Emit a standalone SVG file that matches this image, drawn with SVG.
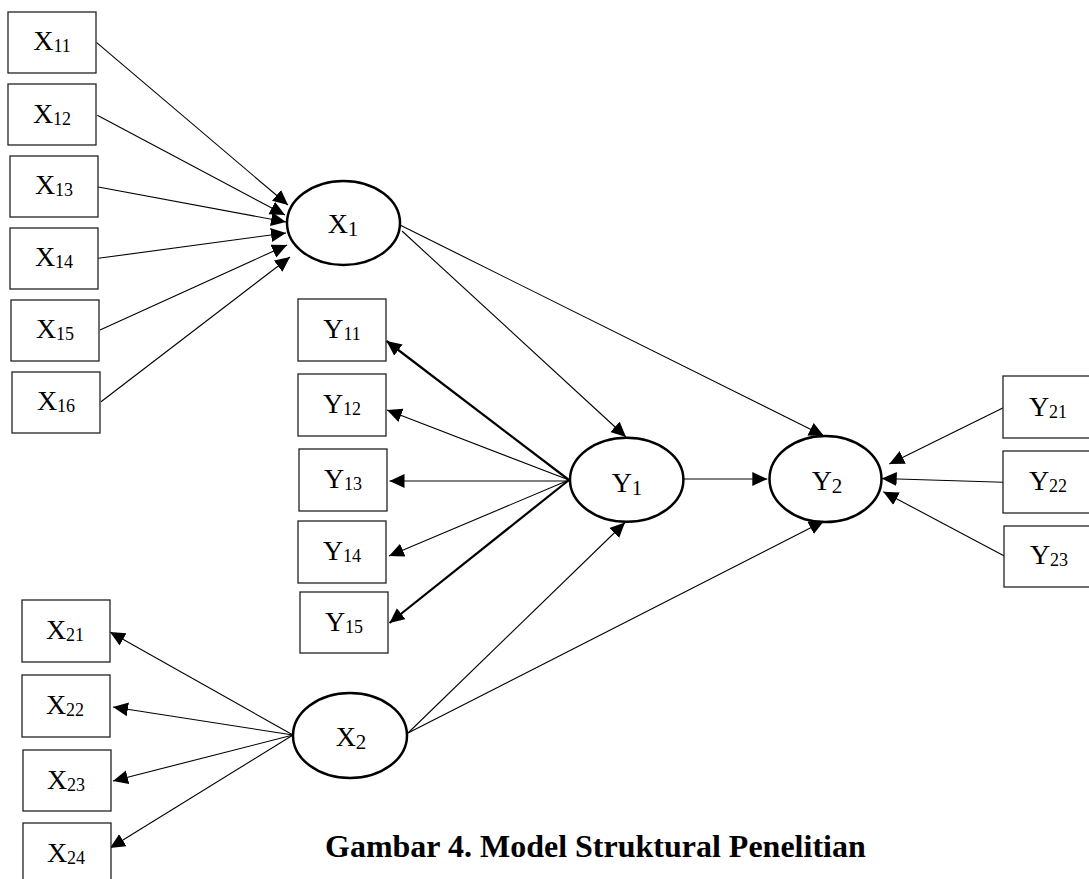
<svg xmlns="http://www.w3.org/2000/svg" width="1089" height="879" viewBox="0 0 1089 879">
<style>
.box{fill:#fff;stroke:#222;stroke-width:1.3}
.lat{fill:#fff;stroke:#000;stroke-width:2.5}
.lbl{font-family:"Liberation Serif","Times New Roman",serif;font-size:28px;fill:#000;text-anchor:middle}
.sub{font-size:18px}
.lsub{font-size:21px}
.c{fill:none;stroke:#000;stroke-width:1.1;marker-end:url(#ah)}
.thick{stroke-width:2.2}
.cap{font-family:"Liberation Serif","Times New Roman",serif;font-size:32px;font-weight:bold;fill:#000}
</style>
<defs>
<marker id="ah" markerUnits="userSpaceOnUse" markerWidth="16" markerHeight="15" refX="15" refY="7" orient="auto">
<path d="M0,0 L15,7 L0,14 z" fill="#000"/>
</marker>
</defs>
<rect width="1089" height="879" fill="#fff"/>
<g id="connectors">
<path class="c" d="M96.7,42.7 L288,205"/>
<path class="c" d="M97.3,115.3 L285,215"/>
<path class="c" d="M98.3,187 L286,222"/>
<path class="c" d="M98.3,258.3 L286,233"/>
<path class="c" d="M100,330 L287,245"/>
<path class="c" d="M101,401.7 L290,257"/>
<path class="c" d="M402,231 L626,437"/>
<path class="c" d="M400,225 L824,436"/>
<path class="c thick" d="M569,480 L386.5,341"/>
<path class="c" d="M569,480 L387,410"/>
<path class="c" d="M570,481 L389.5,481"/>
<path class="c" d="M569,480 L389,556"/>
<path class="c thick" d="M569,480 L389.5,623"/>
<path class="c" d="M683.3,479 L767.3,479"/>
<path class="c" d="M1003.3,407.7 L889.3,464"/>
<path class="c" d="M1003.3,482.3 L881.7,478.5"/>
<path class="c" d="M1004.3,556 L883.3,491.7"/>
<path class="c" d="M408,733 L625,522.5"/>
<path class="c" d="M408,733 L824,521"/>
<path class="c" d="M293,735 L110,632"/>
<path class="c" d="M293,735 L113,707"/>
<path class="c" d="M293,735 L113,781"/>
<path class="c" d="M293,735 L110,848"/>
</g>
<g id="X11"><rect class="box" x="8" y="12" width="88" height="61"/><text class="lbl" x="52" y="50">X<tspan class="sub" dy="2">11</tspan></text></g>
<g id="X12"><rect class="box" x="8" y="84" width="88" height="61"/><text class="lbl" x="52" y="123">X<tspan class="sub" dy="2">12</tspan></text></g>
<g id="X13"><rect class="box" x="10" y="156" width="88" height="61"/><text class="lbl" x="54" y="194">X<tspan class="sub" dy="2">13</tspan></text></g>
<g id="X14"><rect class="box" x="10" y="228" width="88" height="61"/><text class="lbl" x="54" y="266">X<tspan class="sub" dy="2">14</tspan></text></g>
<g id="X15"><rect class="box" x="11" y="300" width="88" height="61"/><text class="lbl" x="55" y="338">X<tspan class="sub" dy="2">15</tspan></text></g>
<g id="X16"><rect class="box" x="12" y="372" width="88" height="61"/><text class="lbl" x="56" y="410">X<tspan class="sub" dy="2">16</tspan></text></g>
<g id="Y11"><rect class="box" x="298" y="299" width="88" height="62"/><text class="lbl" x="342" y="338">Y<tspan class="sub" dy="2">11</tspan></text></g>
<g id="Y12"><rect class="box" x="298" y="374" width="88" height="62"/><text class="lbl" x="342" y="413">Y<tspan class="sub" dy="2">12</tspan></text></g>
<g id="Y13"><rect class="box" x="299" y="449" width="88" height="62"/><text class="lbl" x="343" y="488">Y<tspan class="sub" dy="2">13</tspan></text></g>
<g id="Y14"><rect class="box" x="298" y="521" width="88" height="62"/><text class="lbl" x="342" y="560">Y<tspan class="sub" dy="2">14</tspan></text></g>
<g id="Y15"><rect class="box" x="300" y="592" width="88" height="61"/><text class="lbl" x="344" y="631">Y<tspan class="sub" dy="2">15</tspan></text></g>
<g id="Y21"><rect class="box" x="1003" y="376" width="92" height="62"/><text class="lbl" x="1048" y="416">Y<tspan class="sub" dy="2">21</tspan></text></g>
<g id="Y22"><rect class="box" x="1003" y="451" width="92" height="62"/><text class="lbl" x="1048" y="490">Y<tspan class="sub" dy="2">22</tspan></text></g>
<g id="Y23"><rect class="box" x="1004" y="526" width="92" height="61"/><text class="lbl" x="1049" y="564">Y<tspan class="sub" dy="2">23</tspan></text></g>
<g id="X21"><rect class="box" x="22" y="600" width="88" height="62"/><text class="lbl" x="65" y="639">X<tspan class="sub" dy="2">21</tspan></text></g>
<g id="X22"><rect class="box" x="22" y="675" width="88" height="62"/><text class="lbl" x="65" y="714">X<tspan class="sub" dy="2">22</tspan></text></g>
<g id="X23"><rect class="box" x="23" y="750" width="88" height="61"/><text class="lbl" x="66" y="789">X<tspan class="sub" dy="2">23</tspan></text></g>
<g id="X24"><rect class="box" x="23" y="823" width="88" height="70"/><text class="lbl" x="66" y="862">X<tspan class="sub" dy="2">24</tspan></text></g>
<g id="X1"><ellipse class="lat" cx="343.5" cy="223" rx="56.5" ry="42"/><text class="lbl" x="343" y="233">X<tspan class="lsub" dy="3">1</tspan></text></g>
<g id="Y1"><ellipse class="lat" cx="626.7" cy="479.7" rx="56.7" ry="42"/><text class="lbl" x="627" y="492">Y<tspan class="lsub" dy="3">1</tspan></text></g>
<g id="Y2"><ellipse class="lat" cx="825.5" cy="479" rx="56" ry="43"/><text class="lbl" x="827" y="490">Y<tspan class="lsub" dy="3">2</tspan></text></g>
<g id="X2"><ellipse class="lat" cx="350" cy="735.5" rx="57" ry="42.5"/><text class="lbl" x="351" y="746">X<tspan class="lsub" dy="3">2</tspan></text></g>
<g id="caption"><text class="cap" x="325" y="857">Gambar 4. Model Struktural Penelitian</text></g>
</svg>
